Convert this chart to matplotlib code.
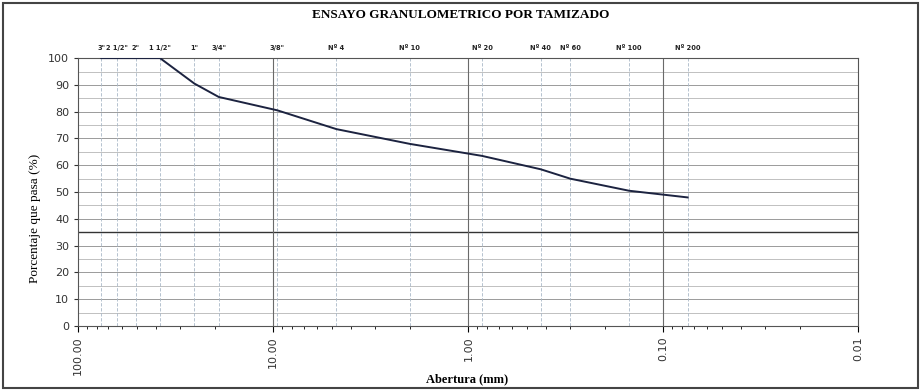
# curva granulometrica

import matplotlib
matplotlib.use("Agg")
import matplotlib.pyplot as plt
import matplotlib.ticker as ticker
from matplotlib.patches import Rectangle

# tamices (etiqueta, abertura en mm) y porcentaje que pasa
sieve_labels = ['3"', '2 1/2"', '2"', '1 1/2"', '1"', '3/4"', '3/8"',
                'Nº 4', 'Nº 10', 'Nº 20', 'Nº 40', 'Nº 60', 'Nº 100', 'Nº 200']
sieve_mm = [76.2, 63.5, 50.8, 38.1, 25.4, 19.05, 9.525,
            4.75, 2.0, 0.85, 0.425, 0.30, 0.15, 0.075]
passing = [100, 100, 100, 100, 90.5, 85.5, 80.5,
           73.5, 68, 63.5, 58.5, 55, 50.5, 48]

decade_ticks = [100, 10, 1, 0.1, 0.01]
decade_labels = ["100.00", "10.00", "1.00", "0.10", "0.01"]

fig = plt.figure(figsize=(9.21, 3.90), dpi=100)
ax = fig.add_axes([0.085, 0.164, 0.847, 0.687])

# rejilla
for y in range(5, 100, 5):
    if y == 35:
        ax.axhline(y, color="#333333", lw=1.0, zorder=1)
    elif y % 10 == 0:
        ax.axhline(y, color="#9a9a9a", lw=0.7, zorder=1)
    else:
        ax.axhline(y, color="#b5b5b5", lw=0.6, zorder=1)
for d in [10, 1, 0.1]:
    ax.axvline(d, color="#6a6a6a", lw=0.8, zorder=1)
for s in sieve_mm:
    ax.axvline(s, color="#a9b8c8", lw=0.6, ls=(0, (4, 2)), zorder=1)

ax.plot(sieve_mm, passing, color="#1c2340", lw=1.4, zorder=3)

ax.set_xscale("log")
ax.set_xlim(100, 0.01)
ax.set_ylim(0, 100)
ax.set_xticks(decade_ticks)
ax.set_xticklabels(decade_labels, rotation=90, fontsize=8, color="#333333")
ax.xaxis.set_minor_locator(ticker.LogLocator(base=10, subs=range(2, 10)))
ax.xaxis.set_minor_formatter(ticker.NullFormatter())
ax.set_yticks(range(0, 101, 10))
ax.tick_params(axis="y", labelsize=8, colors="#333333", length=3)
ax.tick_params(axis="x", which="major", length=4)
ax.tick_params(axis="x", which="minor", length=2)
for sp in ax.spines.values():
    sp.set_color("#555555")
    sp.set_linewidth(0.8)

for lab, s in zip(sieve_labels, sieve_mm):
    ax.text(s, 1.025, lab, transform=ax.get_xaxis_transform(), ha="center",
            va="bottom", fontsize=4.8, fontweight="bold", color="#222222")

fig.text(0.038, 0.44, "Porcentaje que pasa (%)", rotation=90, ha="center",
         va="center", family="Liberation Serif", fontsize=9.5)
fig.text(0.507, 0.028, "Abertura (mm)", ha="center", va="center",
         family="Liberation Serif", fontsize=9, fontweight="bold")

fig.text(0.5, 0.962, "ENSAYO GRANULOMETRICO POR TAMIZADO", ha="center", va="center",
         family="Liberation Serif", fontweight="bold", fontsize=9.5)

# marco de la hoja
fig.patches.append(Rectangle((0.003, 0.006), 0.994, 0.986, transform=fig.transFigure,
                             fill=False, edgecolor="#444444", lw=1.5))

fig.savefig("out.png", dpi=100)
